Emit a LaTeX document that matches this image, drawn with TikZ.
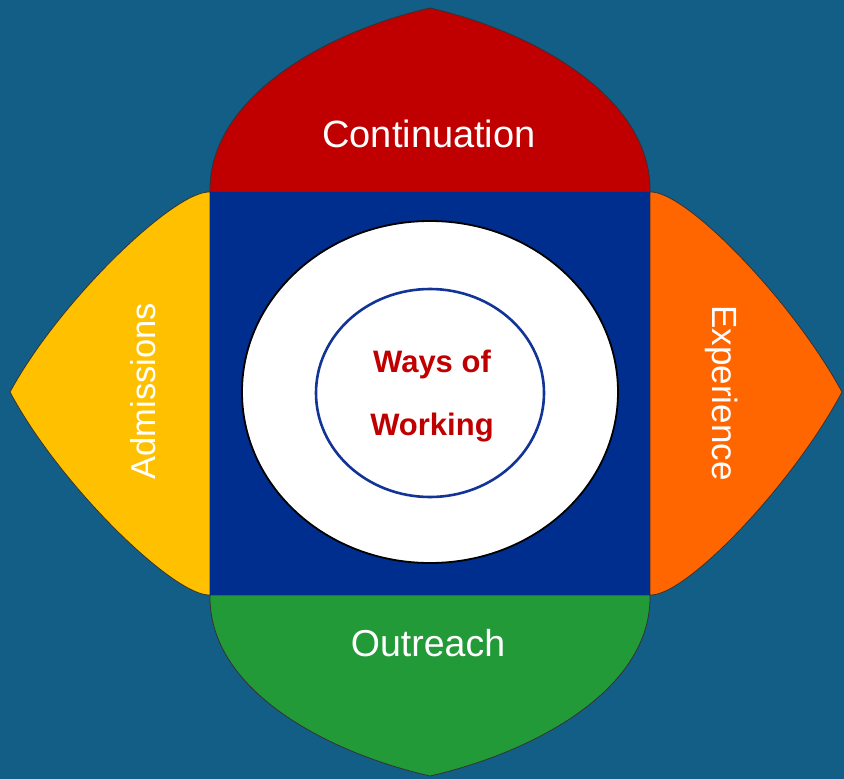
\documentclass[tikz,border=0pt]{standalone}
\usepackage{fontspec}
\setmainfont{Liberation Sans}
\definecolor{bgc}{RGB}{19,94,135}
\definecolor{redp}{RGB}{192,0,0}
\definecolor{yelp}{RGB}{255,192,0}
\definecolor{orap}{RGB}{255,102,0}
\definecolor{grep}{RGB}{33,154,55}
\definecolor{sqc}{RGB}{0,46,142}
\definecolor{ringc}{RGB}{18,52,150}
\definecolor{wowc}{RGB}{192,0,0}
\tikzset{
  petal/.style={draw=black!80, line width=0.8pt},
  lbl/.style={text=white, inner sep=0pt},
  wow/.style={text=wowc, font=\fontsize{31}{34}\selectfont\bfseries, inner sep=0pt}
}
\begin{document}
\begin{tikzpicture}[x=1pt,y=-1pt]
\useasboundingbox (0,0) rectangle (844,779);
\fill[bgc] (0,0) rectangle (844,779);
% top petal
\draw[petal, fill=redp] (210,192) .. controls (208,98) and (325,32) .. (430,8)
  .. controls (535,32) and (652,98) .. (650,192) -- cycle;
% bottom petal
\draw[petal, fill=grep] (210,595) .. controls (208,689) and (325,752) .. (430,776)
  .. controls (535,752) and (652,689) .. (650,595) -- cycle;
% left petal
\draw[petal, fill=yelp] (210,192) .. controls (175,190) and (60,300) .. (10,392)
  .. controls (60,486) and (175,597) .. (210,595) -- cycle;
% right petal
\draw[petal, fill=orap] (650,192) .. controls (685,190) and (792,300) .. (842,392)
  .. controls (792,486) and (685,597) .. (650,595) -- cycle;
% square
\fill[sqc] (210,192) rectangle (650,595);
% circles
\draw[fill=white, draw=black, line width=1.8pt] (430,392) ellipse [x radius=188, y radius=171];
\draw[draw=ringc, line width=2.6pt] (430,393) ellipse [x radius=114, y radius=104];
% labels
\node[lbl, font=\fontsize{38}{42}\selectfont] (cont) at (429,134) {Continuation};
\node[lbl, font=\fontsize{37.5}{42}\selectfont] (outr) at (428,643) {Outreach};
\node[lbl, font=\fontsize{34.5}{40}\selectfont, rotate=90] (adm) at (143,391) {Admissions};
\node[lbl, font=\fontsize{35}{40}\selectfont, rotate=-90] (exp) at (722,393) {Experience};
\node[wow] (w1) at (432,364) {Ways of};
\node[wow] (w2) at (432,428) {Working};
\end{tikzpicture}
\end{document}
